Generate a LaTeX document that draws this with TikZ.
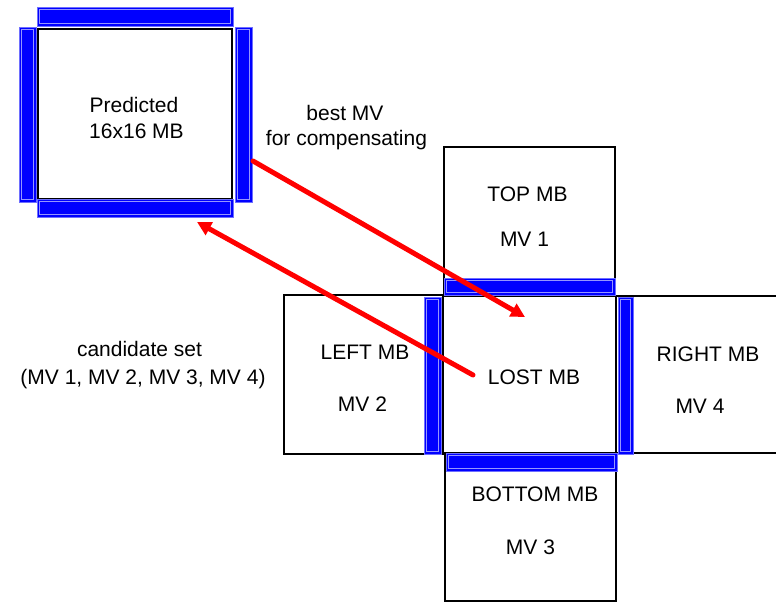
\documentclass[tikz,border=0pt]{standalone}
\usepackage{fontspec}
\setmainfont{Liberation Sans}
\usetikzlibrary{arrows.meta,calc}

\definecolor{barfill}{RGB}{0,0,255}
\definecolor{baredge}{RGB}{110,110,255}
\definecolor{barinner}{RGB}{150,150,255}
\definecolor{arrowred}{RGB}{255,0,0}

% blue boundary strip: filled bar with a thin inner outline
\newcommand\mvbar[4]{%
  \fill[barfill, draw=baredge, line width=1pt] (#1,#2) rectangle (#3,#4);
  \draw[barinner, line width=0.8pt] ($(#1,#2)+(2.5,2.5)$) rectangle ($(#3,#4)+(-2.5,-2.5)$);
}

\tikzset{
  mb/.style={draw=black, line width=2pt, fill=white, rectangle, inner sep=0pt},
  lbl/.style={inner sep=0pt, anchor=base, font=\fontsize{21}{24}\selectfont},
  mvarrow/.style={draw=arrowred, line width=5pt, line cap=round,
    -{Triangle[length=14pt,width=14pt]}},
}

\begin{document}
\begin{tikzpicture}[x=1pt, y=-1pt]
  \clip (0,0) rectangle (776,603);
  \fill[white] (0,0) rectangle (776,603);

  % macroblocks
  \node[mb, minimum width=194pt, minimum height=170pt] (pred) at (135,114) {};
  \node[mb, minimum width=171pt, minimum height=149pt] (top) at (529.5,221.5) {};
  \node[mb, minimum width=159pt, minimum height=159pt] (left) at (363.5,374.5) {};
  \node[mb, minimum width=184pt, minimum height=157pt] (right) at (708,374.5) {};
  \node[mb, minimum width=171pt, minimum height=148pt] (bottom) at (530.5,527) {};
  \node[mb, minimum width=173pt, minimum height=157pt] (lost) at (529.5,374.5) {};

  % boundaries of the predicted macroblock
  \mvbar{37}{7}{233}{26}
  \mvbar{19}{27}{36}{202}
  \mvbar{235}{27}{252}{202}
  \mvbar{37}{199}{233}{217}

  % boundaries adjacent to the lost macroblock
  \mvbar{444}{278}{615}{295}
  \mvbar{424}{297}{441}{454}
  \mvbar{618}{297}{633}{454}
  \mvbar{446}{453}{617}{471}

  % labels
  \node[lbl] (tpred1) at (134,112) {Predicted};
  \node[lbl] (tpred2) at (136.5,138) {16x16 MB};
  \node[lbl] (tbest1) at (345,120) {best MV};
  \node[lbl] (tbest2) at (346.5,145.5) {for compensating};
  \node[lbl] (ttop1) at (527.5,201.5) {TOP MB};
  \node[lbl] (ttop2) at (524.5,246.5) {MV 1};
  \node[lbl] (tleft1) at (365,359) {LEFT MB};
  \node[lbl] (tleft2) at (362.5,411) {MV 2};
  \node[lbl] (tlost) at (534,384) {LOST MB};
  \node[lbl] (tright1) at (708,361) {RIGHT MB};
  \node[lbl] (tright2) at (700,413) {MV 4};
  \node[lbl] (tbot1) at (535,501) {BOTTOM MB};
  \node[lbl] (tbot2) at (530.5,554) {MV 3};
  \node[lbl] (tcand1) at (139.5,356.5) {candidate set};
  \node[lbl] (tcand2) at (143,384) {(MV 1, MV 2, MV 3, MV 4)};

  % motion vector arrows
  \coordinate (a1s) at (253,161);
  \coordinate (a1e) at (525,317);
  \coordinate (a2s) at (473,375);
  \coordinate (a2e) at (197,222);
  \draw[mvarrow] (a1s) -- (a1e);
  \draw[mvarrow] (a2s) -- (a2e);
\end{tikzpicture}
\end{document}
